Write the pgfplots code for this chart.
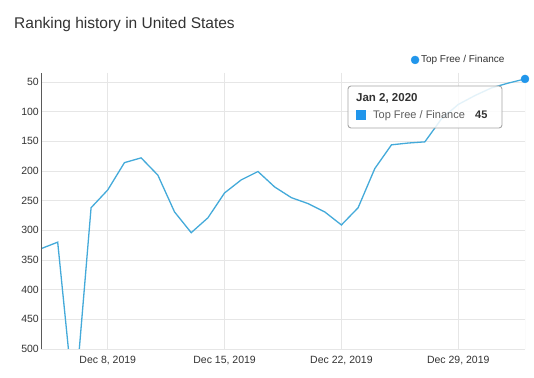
\documentclass[border=0pt]{standalone}
\usepackage{fontspec}
\setmainfont{Liberation Sans}
\usepackage{pgfplots}
\pgfplotsset{compat=1.18}
\definecolor{linec}{RGB}{68,170,218}
\definecolor{leg}{RGB}{33,150,235}
\definecolor{gridc}{RGB}{230,230,230}
\definecolor{txt}{RGB}{51,51,51}
\definecolor{axisc}{RGB}{90,90,90}
\pgfplotstableread{
d r
0 331
1 320
2 600
3 262
4 232
5 186
6 178
7 207
8 269
9 304
10 279
11 237
12 215
13 201
14 227
15 245
16 255
17 269
18 291
19 262
20 196
21 156
22 153
23 151
24 112
25 88
26 73
27 60
28 52
29 45
}\rankdata
\begin{document}
\begin{tikzpicture}[x=1pt,y=1pt]
\path[fill=white] (0pt,0pt) rectangle (534pt,377pt);
\node[anchor=base west, font=\fontsize{15.5}{18}\selectfont, text=txt, inner sep=0] at (14pt,348pt) {Ranking history in United States};
\begin{axis}[at={(41pt,28pt)}, anchor=south west, scale only axis, width=484pt, height=276pt,
  xmin=0, xmax=29, ymin=35, ymax=500, y dir=reverse,
  xtick={4,11,18,25},
  xticklabels={{Dec 8, 2019},{Dec 15, 2019},{Dec 22, 2019},{Dec 29, 2019}},
  ytick={50,100,...,500},
  /pgf/number format/assume math mode=true,
  grid=major, major grid style={draw=gridc, line width=0.8pt},
  axis line style={draw=none},
  major tick length=0pt,
  tick label style={font=\fontsize{10.5}{12}\selectfont, text=txt},
  yticklabel style={anchor=east, inner sep=0pt, xshift=-2pt},
  xticklabel style={anchor=north, inner sep=0pt, yshift=-7pt},
  legend style={at={(axis cs:27.9,13)}, anchor=east, draw=none, fill=none, inner sep=0pt,
    font=\fontsize{10}{12}\selectfont, text=txt, legend cell align=left,
    /tikz/every even column/.append style={column sep=1pt}},
  legend image code/.code={\pgfuseplotmark{*}},
]
\addplot[linec, line width=1.3pt, forget plot] table[x=d,y=r] {\rankdata};
\addplot[only marks, mark=*, mark size=4pt, leg, mark options={draw=leg, fill=leg}] coordinates {(29,45)};
\addlegendentry{Top Free / Finance}
\draw[gridc, line width=0.8pt] (axis cs:0,500) -- (axis cs:29,500);
\draw[gridc, line width=0.8pt] (axis cs:29,500) -- (axis cs:29,35);
\draw[axisc, line width=1pt] (axis cs:0,500) -- (axis cs:0,35);
\end{axis}
\draw[rounded corners=3pt, draw=black!35, fill=white, fill opacity=0.85, line width=0.9pt] (348pt,291pt) rectangle (502pt,249pt);
\node[anchor=base west, inner sep=0, font=\bfseries\fontsize{11.5}{14}\selectfont, text=txt] at (356pt,275pt) {Jan 2, 2020};
\fill[leg] (356pt,257pt) rectangle (366pt,267pt);
\node[anchor=base west, inner sep=0, font=\fontsize{11}{14}\selectfont, text=txt!80!white] at (373pt,258pt) {Top Free / Finance};
\node[anchor=base west, inner sep=0, font=\bfseries\fontsize{11}{14}\selectfont, text=txt] at (475pt,258pt) {45};
\end{tikzpicture}
\end{document}
